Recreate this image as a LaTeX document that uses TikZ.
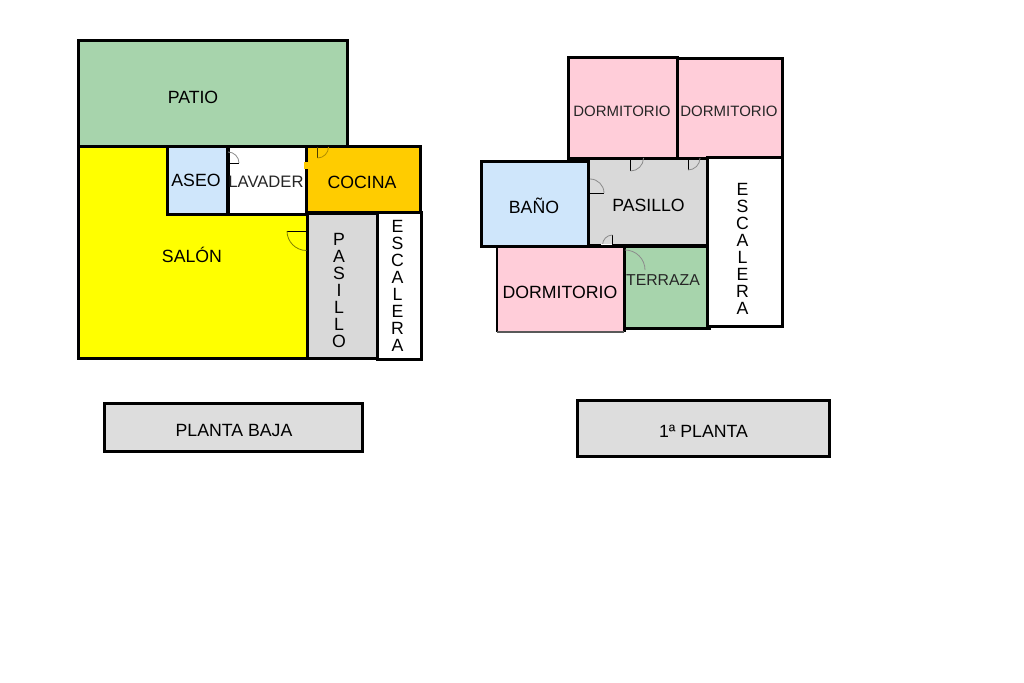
\documentclass[tikz,border=0pt]{standalone}
\usepackage{fontspec}
\setmainfont{Liberation Sans}
\definecolor{patio}{HTML}{A7D4AC}
\definecolor{salon}{HTML}{FFFF00}
\definecolor{aseo}{HTML}{CFE6FB}
\definecolor{cocina}{HTML}{FFCC00}
\definecolor{pasillo}{HTML}{D9D9D9}
\definecolor{dormitorio}{HTML}{FFCDD9}
\begin{document}
\begin{tikzpicture}[x=1pt,y=-1pt,
    room/.style={draw=black,line width=3pt,fill=#1},
    door/.style={line width=0.8pt,draw=black!45},
    leaf/.style={line width=1pt,draw=black},
    big/.style={font=\fontsize{17.7}{17}\selectfont,inner sep=0pt,align=center},
    small/.style={font=\fontsize{15}{15}\selectfont,inner sep=0pt,text=black!85}]
  \useasboundingbox (0,0) rectangle (1024,682);
  % planta baja
  \draw[room=patio] (78,41) rectangle (347.5,146);
  \draw[room=salon] (78,146) rectangle (307,358);
  \draw[room=aseo] (167.5,146) rectangle (227,214);
  \draw[room=white] (228,146) rectangle (306,214);
  \draw[black,line width=2pt] (228,147) -- (228,214);
  \draw[room=cocina] (306,146) rectangle (420.5,212);
  \draw[room=pasillo] (307.5,213) rectangle (377,358);
  \draw[room=white] (377,212.5) rectangle (421,359);
  \node[big] (patio) at (193,97.5) {PATIO};
  \node[big] (aseo) at (196,180.5) {ASEO};
  \node[small,font=\fontsize{16.6}{16}\selectfont] (lavader) at (266,181.5) {LAVADER};
  \node[big] (cocina) at (362,182.5) {COCINA};
  \node[big] (salonb) at (192,255) {SALÓN};
  \node[big] (pasillob) at (339,290.5) {P\\A\\S\\I\\L\\L\\O};
  \node[big] (escalerab) at (397.5,286) {E\\S\\C\\A\\L\\E\\R\\A};
  % puertas planta baja
  \draw[leaf] (228,163) -- (239,163);
  \draw[door] (239,163) arc[start angle=0,end angle=-90,radius=11];
  \draw[leaf,draw=black!70!cocina] (317.5,147) -- (317.5,158);
  \draw[door,draw=black!30!cocina] (317.5,158) arc[start angle=90,end angle=0,radius=11];
  \fill[cocina] (304,162) rectangle (307.5,169);
  \draw[leaf] (287,231) -- (306,231);
  \draw[door,draw=black!50!salon] (287,231) arc[start angle=180,end angle=90,radius=19.5];
  % 1a planta
  \draw[room=dormitorio] (568.5,57.5) rectangle (677.5,158);
  \draw[room=dormitorio] (677.5,58.5) rectangle (782.5,158);
  \draw[room=aseo] (481.5,161) rectangle (588,246);
  \draw[room=pasillo] (588,158) rectangle (707,245);
  \draw[room=patio] (624,246) rectangle (709,328);
  \fill[dormitorio] (497,246) rectangle (624,332);
  \draw[black,line width=2pt] (497,332) -- (497,246);
  \draw[black,line width=3pt] (497,246) -- (624,246) -- (624,332);
  \draw[black!65,line width=1.5pt] (497,332) -- (624,332);
  \draw[room=white] (707.5,157) rectangle (782.5,326);
  \node[small] (dorm1) at (622,111) {DORMITORIO};
  \node[small] (dorm2) at (729,111) {DORMITORIO};
  \node[big] (bano) at (534,206) {BAÑO};
  \node[big] (pasilloa) at (648.5,205.5) {PASILLO};
  \node[big] (dorm3) at (560,292) {DORMITORIO};
  \node[small,font=\fontsize{15.8}{16}\selectfont] (terraza) at (663,280.5) {TERRAZA};
  \node[big] (escaleraa) at (742.5,248.5) {E\\S\\C\\A\\L\\E\\R\\A};
  % puertas 1a planta
  \draw[leaf] (630.5,159) -- (630.5,171);
  \draw[door] (630.5,171) arc[start angle=90,end angle=0,radius=13];
  \draw[leaf] (688,159) -- (688,170);
  \draw[door] (688,170) arc[start angle=90,end angle=0,radius=12];
  \draw[leaf] (590,193) -- (604,193);
  \draw[door] (604,193) arc[start angle=0,end angle=-90,radius=14];
  \draw[leaf] (612.5,235) -- (612.5,245);
  \draw[door] (612.5,235) arc[start angle=-90,end angle=-180,radius=10];
  \draw[white,line width=1pt] (601,244.5) -- (612,244.5);
  \draw[door] (625,250) arc[start angle=-90,end angle=0,radius=20];
  % rotulos
  \draw[room=pasillo!90!white] (104,403) rectangle (362,451);
  \draw[room=pasillo!90!white] (577,400) rectangle (829,456);
  \node[big] (baja) at (234,430.5) {PLANTA BAJA};
  \node[big] (primera) at (703.5,431.5) {1ª PLANTA};
\end{tikzpicture}
\end{document}
